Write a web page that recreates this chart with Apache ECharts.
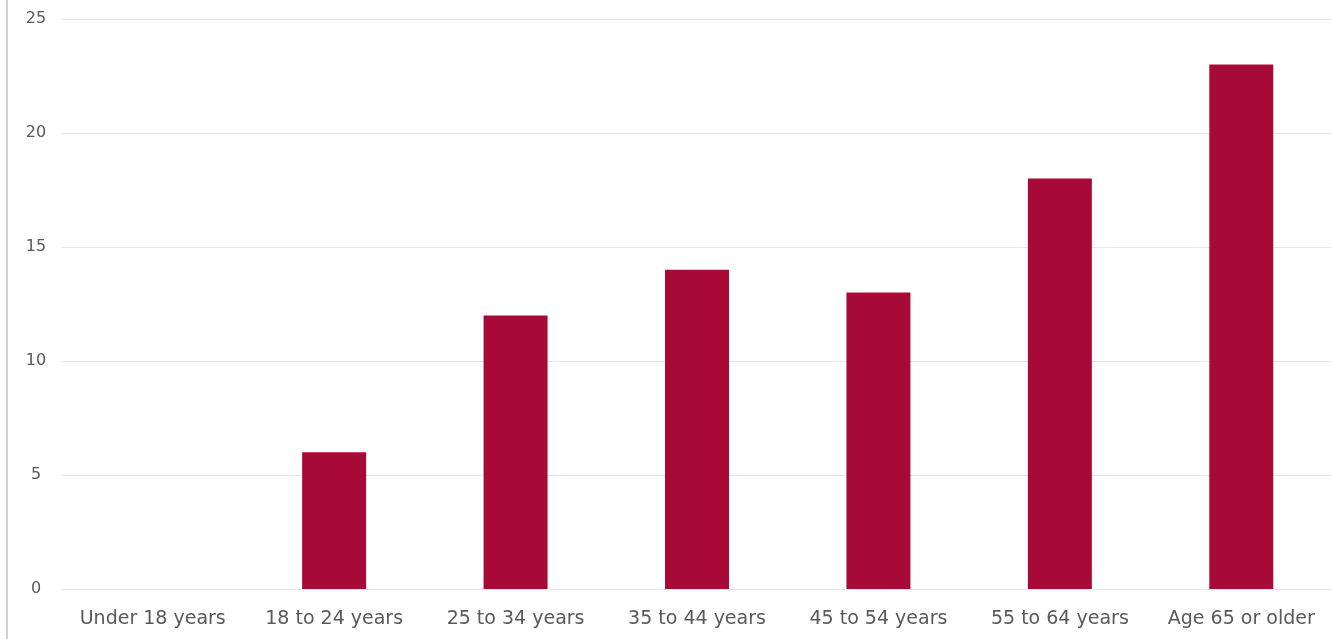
<!DOCTYPE html>
<html>
<head>
    <meta charset="UTF-8">
    <script src="https://cdn.jsdelivr.net/npm/echarts@6/dist/echarts.min.js"></script>
    <style>
        html, body { margin: 0; padding: 0; background: #fff; }
        #main { width: 1332px; height: 639px; }
    </style>
</head>
<body>
<div id="main"></div>
<script type="text/javascript">
    var ageGroups = ['Under 18 years', '18 to 24 years', '25 to 34 years', '35 to 44 years',
        '45 to 54 years', '55 to 64 years', 'Age 65 or older'];
    var counts = [0, 6, 12, 14, 13, 18, 23];
    var yTicks = [0, 5, 10, 15, 20, 25];

    var myChart = echarts.init(document.getElementById('main'));
    var option = {
        animation: false,
        grid: {
            left: 62,
            top: 19,
            width: 1271,
            height: 570
        },
        graphic: [{
            type: 'rect',
            left: 6,
            top: 0,
            shape: { width: 2, height: 639 },
            style: { fill: '#d0d0d0' }
        }],
        xAxis: {
            type: 'category',
            data: ageGroups,
            axisLine: { show: false },
            axisTick: { show: false },
            axisLabel: {
                color: '#595959',
                fontFamily: 'DejaVu Sans',
                fontSize: 19,
                margin: 21,
                interval: 0
            }
        },
        yAxis: {
            type: 'value',
            min: yTicks[0],
            max: yTicks[yTicks.length - 1],
            interval: 5,
            axisLine: { show: false },
            axisTick: { show: false },
            splitLine: { lineStyle: { color: '#e6e6e6', width: 1 } },
            axisLabel: {
                color: '#595959',
                fontFamily: 'DejaVu Sans',
                fontSize: 16,
                align: 'center',
                margin: 26
            }
        },
        series: [{
            type: 'bar',
            data: counts,
            barWidth: 64,
            itemStyle: { color: '#a80a38' }
        }]
    };
    myChart.setOption(option);
</script>
</body>
</html>
